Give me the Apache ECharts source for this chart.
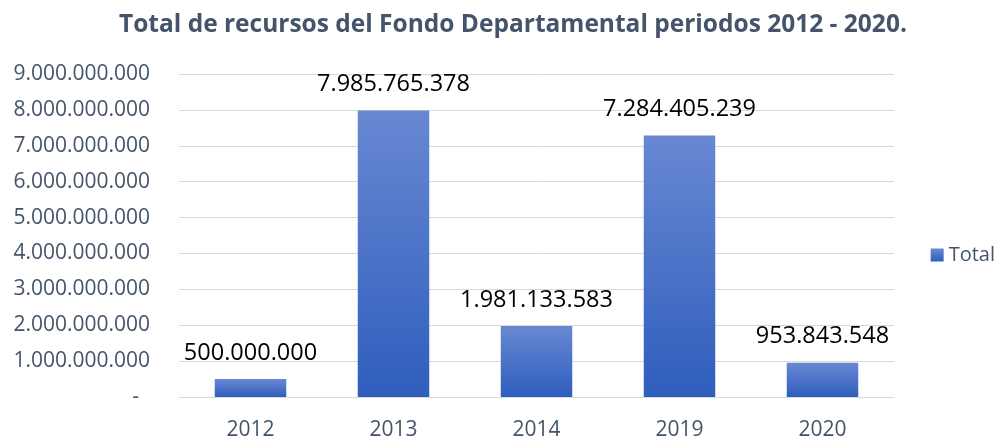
<!DOCTYPE html>
<html>
<head>
<meta charset="utf-8">
<title>Total de recursos del Fondo Departamental</title>
<script src="https://cdn.jsdelivr.net/npm/echarts@6/dist/echarts.min.js"></script>
<style>
  html, body { margin: 0; padding: 0; background: #fff; }
  #chart { width: 1003px; height: 441px; }
</style>
</head>
<body>
<div id="chart"></div>
<script>
var years = ['2012', '2013', '2014', '2019', '2020'];
var totals = [500000000, 7985765378, 1981133583, 7284405239, 953843548];
var yTicks = [0, 1e9, 2e9, 3e9, 4e9, 5e9, 6e9, 7e9, 8e9, 9e9];

function fmtDots(v) {
    if (v === 0) return '-  ';
    return String(Math.round(v)).replace(/\B(?=(\d{3})+(?!\d))/g, '.');
}

var chart = echarts.init(document.getElementById('chart'));
chart.setOption({
    animation: false,
    textStyle: { fontFamily: 'Open Sans' },
    title: {
        text: 'Total de recursos del Fondo Departamental periodos 2012 - 2020.',
        left: 114,
        top: 8,
        textStyle: { color: '#44546a', fontSize: 24.5, fontWeight: 'bold', fontFamily: 'Open Sans' }
    },
    legend: {
        data: ['Total'],
        right: 3,
        top: 240,
        icon: 'rect',
        itemWidth: 13,
        itemHeight: 13,
        itemGap: 4,
        textStyle: { color: '#44546a', fontSize: 20 }
    },
    grid: { left: 179, right: 109, top: 74, bottom: 43, containLabel: false },
    xAxis: {
        type: 'category',
        data: years,
        axisTick: { show: false },
        axisLine: { lineStyle: { color: '#d9d9d9', width: 1 } },
        axisLabel: { color: '#44546a', fontSize: 21, margin: 23 }
    },
    yAxis: {
        type: 'value',
        min: yTicks[0],
        max: yTicks[yTicks.length - 1],
        interval: 1e9,
        axisLine: { show: false },
        axisTick: { show: false },
        splitLine: { lineStyle: { color: '#d9d9d9', width: 1 } },
        axisLabel: { color: '#44546a', fontSize: 21, margin: 29, formatter: fmtDots }
    },
    series: [{
        name: 'Total',
        type: 'bar',
        data: totals,
        barWidth: '50%',
        itemStyle: {
            color: new echarts.graphic.LinearGradient(0, 0, 0, 1, [
                { offset: 0, color: '#6888d2' },
                { offset: 1, color: '#2f5ebd' }
            ])
        },
        label: {
            show: true,
            position: 'top',
            distance: 14,
            color: '#000',
            fontSize: 23.5,
            formatter: function (p) { return fmtDots(p.value); }
        }
    }]
});
</script>
</body>
</html>
